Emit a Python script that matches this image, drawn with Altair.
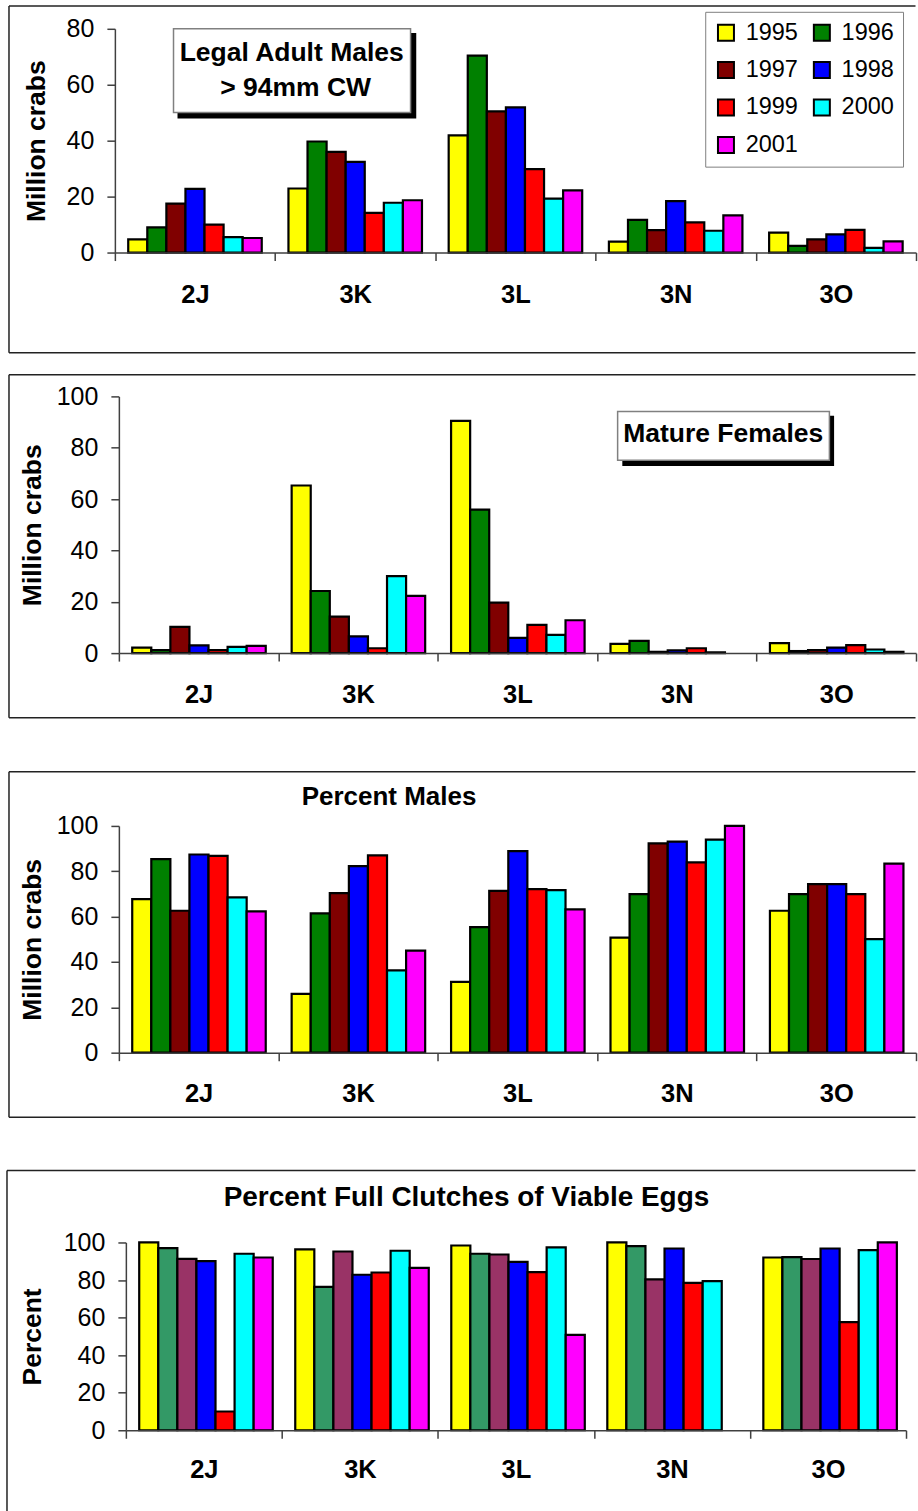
import altair as alt
import pandas as pd

regions = ["2J", "3K", "3L", "3N", "3O"]
years = ["1995", "1996", "1997", "1998", "1999", "2000", "2001"]

# One row per NAFO division, one value per survey year (None = no survey value)
legal_males = [
    [4.7, 9.0, 17.5, 22.8, 10.0, 5.5, 5.2],
    [22.9, 39.7, 36.0, 32.4, 14.2, 17.8, 18.7],
    [41.9, 70.4, 50.5, 51.9, 29.8, 19.3, 22.2],
    [3.9, 11.7, 8.0, 18.4, 10.8, 7.8, 13.3],
    [7.1, 2.4, 4.7, 6.5, 8.1, 1.7, 4.0],
]
mature_females = [
    [2.1, 1.2, 10.2, 3.0, 1.2, 2.4, 2.8],
    [65.3, 24.2, 14.2, 6.5, 1.9, 30.0, 22.3],
    [90.5, 55.9, 19.7, 5.9, 11.0, 7.1, 12.8],
    [3.6, 4.8, 0.5, 1.1, 1.9, 0.3, None],
    [3.9, 0.8, 1.2, 2.1, 3.1, 1.4, 0.5],
]
percent_males = [
    [67.7, 85.4, 62.6, 87.4, 86.8, 68.5, 62.3],
    [25.9, 61.4, 70.4, 82.3, 87.0, 36.3, 45.0],
    [31.2, 55.4, 71.4, 88.9, 72.1, 71.7, 63.2],
    [50.7, 69.9, 92.3, 93.1, 83.9, 94.0, 100.0],
    [62.6, 69.9, 74.3, 74.3, 69.9, 50.1, 83.4],
]
full_clutches = [
    [100.0, 97.0, 91.3, 90.1, 10.0, 94.0, 92.0],
    [96.3, 76.4, 95.2, 82.8, 84.0, 95.6, 86.5],
    [98.4, 94.0, 93.6, 89.7, 84.2, 97.4, 50.8],
    [100.0, 98.1, 80.3, 96.8, 78.5, 79.4, None],
    [92.0, 92.2, 91.2, 96.8, 57.6, 95.9, 100.0],
]

colors_main = ["#FFFF00", "#008000", "#800000", "#0000FF", "#FF0000", "#00FFFF", "#FF00FF"]
colors_eggs = ["#FFFF00", "#339966", "#993366", "#0000FF", "#FF0000", "#00FFFF", "#FF00FF"]

FONT = "Liberation Sans"
AXIS_COLOR = "#404040"
FRAME_COLOR = "#222222"
RIGHT = 803  # right edge of every panel, relative to the shared plot origin
one_row = pd.DataFrame({"k": [0]})


def long_table(rows):
    recs = []
    for region, row in zip(regions, rows):
        for year, v in zip(years, row):
            if v is not None:
                recs.append({"region": region, "year": year, "value": v})
    return pd.DataFrame(recs)


def rect(x1, x2, y1, y2, **style):
    return alt.Chart(one_row).mark_rect(**style).encode(
        x=alt.value(x1), x2=alt.value(x2), y=alt.value(y1), y2=alt.value(y2)
    )


def frame(x1, y1, y2):
    """Open-sided panel border: top, left and bottom edges."""
    style = dict(color=FRAME_COLOR, strokeWidth=1.5)
    top = alt.Chart(one_row).mark_rule(**style).encode(
        x=alt.value(x1), x2=alt.value(RIGHT - 1.5), y=alt.value(y1))
    bottom = alt.Chart(one_row).mark_rule(**style).encode(
        x=alt.value(x1), x2=alt.value(RIGHT - 1.5), y=alt.value(y2))
    left = alt.Chart(one_row).mark_rule(**style).encode(
        x=alt.value(x1), y=alt.value(y1), y2=alt.value(y2))
    return [top, bottom, left]


def label(text, x, y, size):
    return alt.Chart(one_row).mark_text(
        text=text, font=FONT, fontSize=size, fontWeight="bold",
        align="center", baseline="alphabetic", color="black",
    ).encode(x=alt.value(x), y=alt.value(y))


def bars(rows, colors, ymax, height, shift, end, title, title_x, label_pad, pad_outer, legend=None):
    return alt.Chart(long_table(rows)).mark_bar(stroke="black", strokeWidth=2.2).encode(
        x=alt.X(
            "region:N", sort=regions, title=None,
            scale=alt.Scale(domain=regions, range=[shift, end], paddingInner=0, paddingOuter=0),
            axis=alt.Axis(
                labelAngle=0, labelFont=FONT, labelFontSize=25.5, labelFontWeight="bold",
                labelColor="black", labelPadding=label_pad, tickBand="extent", tickSize=8,
                tickColor=AXIS_COLOR, tickWidth=1.5, domainColor=AXIS_COLOR, domainWidth=1.5,
                grid=False, zindex=1,
            ),
        ),
        xOffset=alt.XOffset(
            "year:N", sort=years,
            scale=alt.Scale(domain=years, paddingInner=0, paddingOuter=pad_outer),
        ),
        y=alt.Y(
            "value:Q",
            scale=alt.Scale(domain=[0, ymax], nice=False),
            axis=alt.Axis(
                values=list(range(0, ymax + 1, 20)), title=title, offset=-shift,
                labelFont=FONT, labelFontSize=25, labelColor="black", labelPadding=13,
                tickSize=8, tickColor=AXIS_COLOR, tickWidth=1.5,
                domainColor=AXIS_COLOR, domainWidth=1.5, grid=False, zindex=1,
                titleFont=FONT, titleFontSize=26.5, titleFontWeight="bold", titleColor="black",
                titleAngle=270, titleBaseline="alphabetic", titleAlign="center",
                titleX=title_x, titleY=height / 2,
            ),
        ),
        fill=alt.Fill(
            "year:N", sort=years,
            scale=alt.Scale(domain=years, range=colors),
            legend=legend,
        ),
    )


year_legend = alt.Legend(
    orient="none", legendX=591, legendY=-17, columns=2, direction="horizontal", title=None,
    symbolType="square", symbolSize=256, symbolStrokeColor="black", symbolStrokeWidth=2,
    symbolOpacity=1, labelFont=FONT, labelFontSize=23.5, labelColor="black", labelOffset=8,
    columnPadding=11, rowPadding=12.5, padding=9, strokeColor="#808080", fillColor="white",
    labelLimit=200,
)

# Panel 1: legal-size adult males
b1 = bars(legal_males, colors_main, 80, 224, 0, RIGHT - 1, "Million crabs", -70.7, 22, 0.7, year_legend)
panel1 = alt.layer(
    rect(-114, RIGHT, -27, 333, fill="white"),
    *frame(-106, -22.7, 324.3),
    b1,
    rect(62.7, 301.7, 4.3, 89.7, fill="black"),
    rect(58.7, 296, 0, 83.7, fill="white", stroke="#808080", strokeWidth=1.5),
    label("Legal Adult Males", 177, 32.7, 26.5),
    label("> 94mm CW", 181, 67, 26.5),
).properties(width=RIGHT - 1, height=224)

# Panel 2: mature females
b2 = bars(mature_females, colors_main, 100, 257, 4, RIGHT - 1, "Million crabs", -78, 21, 0.72)
panel2 = alt.layer(
    rect(-114, RIGHT, -33, 347, fill="white"),
    *frame(-106, -21.7, 321.7),
    b2,
    rect(508, 720, 19.5, 69.7, fill="black"),
    rect(503.3, 715.3, 15, 64, fill="white", stroke="#808080", strokeWidth=1.5),
    label("Mature Females", 609, 45.7, 26.5),
).properties(width=RIGHT - 1, height=257)

# Panel 3: percent males
b3 = bars(percent_males, colors_main, 100, 227, 4, RIGHT - 1, "Million crabs", -78, 21, 0.75)
panel3 = alt.layer(
    rect(-114, RIGHT, -81, 317, fill="white"),
    *frame(-106, -54.3, 291.7),
    b3,
    label("Percent Males", 274.5, -21, 26),
).properties(width=RIGHT - 1, height=227)

# Panel 4: percent full clutches of viable eggs
b4 = bars(full_clutches, colors_eggs, 100, 188, 11, 792, "Percent", -85.7, 19.5, 0.74)
panel4 = alt.layer(
    rect(-114, RIGHT, -98, 271, fill="white"),
    *frame(-108, -72, 270),
    b4,
    label("Percent Full Clutches of Viable Eggs", 352, -36.3, 28),
).properties(width=792, height=188)

chart = alt.vconcat(panel1, panel2, panel3, panel4, spacing=0, padding=0).resolve_scale(
    fill="independent"
).configure_view(stroke=None).configure(background="white")

chart.save("out.html", embed_options={"renderer": "svg", "actions": False})
